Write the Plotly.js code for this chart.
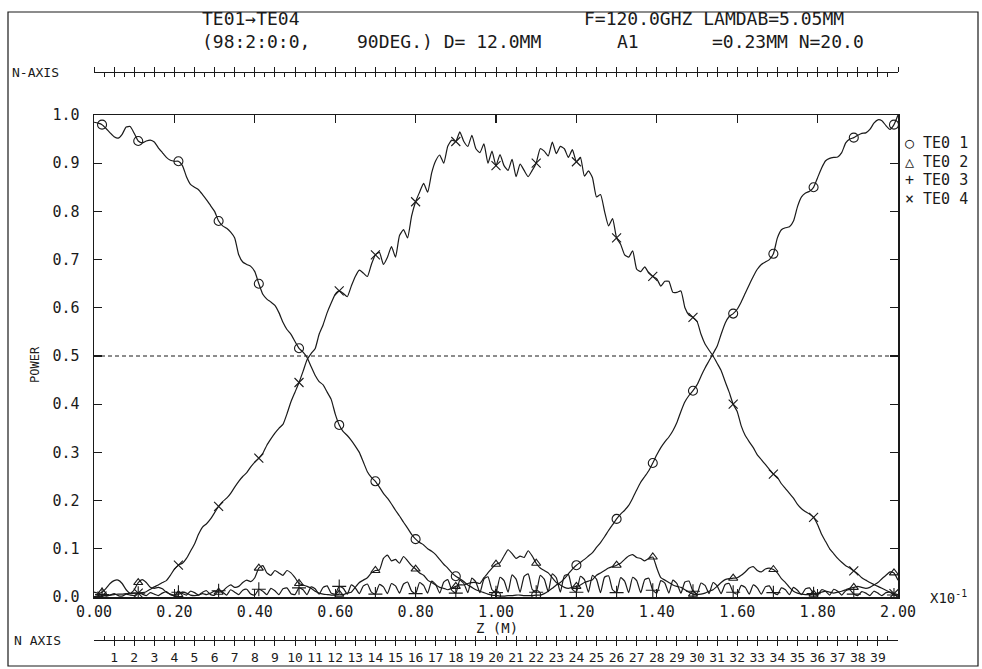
<!DOCTYPE html>
<html>
<head>
<meta charset="utf-8">
<script src="https://cdn.plot.ly/plotly-3.0.1.min.js"></script>
<style>
html,body{margin:0;padding:0;background:#fff;}
#chart{width:982px;height:669px;}
</style>
</head>
<body>
<div id="chart"></div>
<script>
// ---- data (power vs z, z sampled every 0.01 m from 0 to 2.00) ----
const zStart = 0;
const zStep = 0.01;
const seriesNames = ['TE0 1', 'TE0 2', 'TE0 3', 'TE0 4'];

const te01 = [
 0.985,0.983,0.980,0.972,0.963,0.955,0.952,0.960,0.975,0.976,
 0.962,0.946,0.942,0.946,0.948,0.944,0.932,0.922,0.912,0.906,
 0.904,0.904,0.895,0.872,0.856,0.850,0.845,0.835,0.824,0.812,
 0.800,0.780,0.770,0.765,0.757,0.745,0.710,0.695,0.690,0.686,
 0.675,0.650,0.628,0.618,0.612,0.605,0.590,0.570,0.555,0.545,
 0.530,0.516,0.508,0.497,0.478,0.460,0.447,0.440,0.425,0.410,
 0.380,0.357,0.343,0.335,0.325,0.313,0.300,0.280,0.260,0.248,
 0.240,0.228,0.215,0.205,0.193,0.180,0.168,0.155,0.143,0.130,
 0.120,0.113,0.108,0.100,0.095,0.088,0.078,0.068,0.060,0.050,
 0.043,0.038,0.032,0.025,0.020,0.015,0.012,0.009,0.006,0.004,
 0.003,0.002,0.002,0.003,0.003,0.004,0.004,0.003,0.003,0.003,
 0.004,0.004,0.007,0.012,0.018,0.025,0.030,0.038,0.048,0.058,
 0.066,0.072,0.078,0.085,0.092,0.103,0.113,0.125,0.138,0.150,
 0.162,0.172,0.180,0.190,0.205,0.222,0.238,0.250,0.262,0.278,
 0.295,0.310,0.322,0.332,0.345,0.362,0.385,0.405,0.418,0.428,
 0.440,0.458,0.475,0.490,0.505,0.520,0.545,0.568,0.582,0.588,
 0.597,0.612,0.630,0.648,0.665,0.680,0.690,0.695,0.700,0.712,
 0.745,0.762,0.766,0.768,0.780,0.810,0.830,0.838,0.842,0.850,
 0.870,0.890,0.905,0.910,0.912,0.913,0.922,0.942,0.950,0.953,
 0.958,0.962,0.963,0.970,0.983,0.990,0.988,0.978,0.970,0.980,
 1.000];

const te02 = [
 0.010,0.008,0.010,0.018,0.028,0.034,0.035,0.028,0.015,0.008,
 0.015,0.030,0.036,0.030,0.020,0.018,0.020,0.017,0.010,0.006,
 0.004,0.005,0.010,0.008,0.004,0.003,0.004,0.007,0.005,0.008,
 0.012,0.010,0.012,0.020,0.025,0.020,0.022,0.030,0.035,0.032,
 0.040,0.060,0.065,0.050,0.045,0.055,0.050,0.045,0.055,0.050,
 0.040,0.028,0.025,0.022,0.018,0.012,0.008,0.006,0.005,0.004,
 0.004,0.006,0.005,0.008,0.010,0.020,0.030,0.035,0.040,0.050,
 0.055,0.056,0.080,0.087,0.075,0.078,0.070,0.084,0.075,0.065,
 0.058,0.050,0.045,0.035,0.030,0.025,0.020,0.018,0.015,0.018,
 0.022,0.025,0.025,0.028,0.030,0.030,0.028,0.040,0.050,0.060,
 0.068,0.071,0.085,0.098,0.090,0.080,0.085,0.082,0.096,0.085,
 0.070,0.060,0.055,0.050,0.040,0.030,0.025,0.020,0.018,0.020,
 0.022,0.025,0.030,0.033,0.036,0.045,0.050,0.055,0.060,0.063,
 0.066,0.070,0.078,0.085,0.088,0.082,0.080,0.075,0.080,0.083,
 0.060,0.040,0.035,0.030,0.025,0.022,0.020,0.015,0.010,0.006,
 0.005,0.006,0.008,0.012,0.015,0.022,0.030,0.036,0.038,0.039,
 0.040,0.045,0.052,0.060,0.063,0.055,0.052,0.058,0.060,0.057,
 0.050,0.038,0.030,0.020,0.012,0.008,0.006,0.005,0.005,0.006,
 0.008,0.010,0.012,0.010,0.008,0.010,0.012,0.015,0.018,0.020,
 0.022,0.020,0.018,0.020,0.025,0.030,0.038,0.045,0.052,0.050,
 0.035];

const te03 = [
 0.000,0.003,0.005,0.002,0.004,0.007,0.003,0.002,0.006,0.004,
 0.003,0.008,0.006,0.003,0.009,0.006,0.003,0.008,0.011,0.005,
 0.003,0.010,0.007,0.004,0.012,0.009,0.004,0.010,0.013,0.005,
 0.004,0.013,0.010,0.004,0.015,0.010,0.005,0.014,0.016,0.006,
 0.004,0.016,0.012,0.005,0.018,0.013,0.005,0.017,0.019,0.007,
 0.005,0.019,0.015,0.005,0.021,0.017,0.006,0.020,0.023,0.008,
 0.006,0.022,0.018,0.006,0.025,0.019,0.007,0.023,0.027,0.010,
 0.006,0.026,0.021,0.007,0.028,0.023,0.008,0.027,0.031,0.012,
 0.007,0.030,0.024,0.008,0.033,0.026,0.008,0.031,0.036,0.014,
 0.008,0.035,0.028,0.009,0.039,0.031,0.009,0.037,0.042,0.015,
 0.009,0.041,0.034,0.010,0.046,0.037,0.010,0.043,0.048,0.016,
 0.010,0.045,0.037,0.011,0.048,0.040,0.010,0.044,0.047,0.016,
 0.010,0.043,0.036,0.010,0.045,0.037,0.009,0.041,0.044,0.015,
 0.009,0.040,0.033,0.009,0.041,0.034,0.009,0.036,0.039,0.014,
 0.008,0.034,0.029,0.008,0.035,0.028,0.008,0.031,0.033,0.012,
 0.007,0.029,0.024,0.007,0.030,0.023,0.007,0.026,0.028,0.010,
 0.006,0.024,0.020,0.006,0.025,0.019,0.006,0.021,0.023,0.009,
 0.005,0.019,0.015,0.005,0.020,0.014,0.005,0.017,0.019,0.007,
 0.004,0.015,0.012,0.004,0.016,0.012,0.004,0.013,0.015,0.006,
 0.003,0.011,0.008,0.003,0.012,0.008,0.003,0.009,0.010,0.004,
 0.002];

const te04 = [
 0.000,0.001,0.002,0.003,0.004,0.005,0.006,0.006,0.007,0.007,
 0.008,0.008,0.009,0.011,0.016,0.021,0.025,0.030,0.034,0.045,
 0.058,0.066,0.070,0.080,0.095,0.110,0.130,0.145,0.152,0.162,
 0.175,0.188,0.198,0.205,0.215,0.228,0.240,0.250,0.258,0.270,
 0.280,0.288,0.298,0.315,0.328,0.340,0.350,0.358,0.380,0.405,
 0.425,0.445,0.468,0.492,0.505,0.515,0.545,0.565,0.590,0.610,
 0.628,0.635,0.630,0.623,0.645,0.665,0.678,0.672,0.665,0.690,
 0.710,0.715,0.690,0.705,0.727,0.705,0.750,0.762,0.745,0.790,
 0.820,0.840,0.858,0.840,0.880,0.905,0.917,0.900,0.935,0.948,
 0.945,0.965,0.945,0.935,0.958,0.930,0.922,0.940,0.900,0.925,
 0.895,0.918,0.895,0.885,0.908,0.872,0.898,0.885,0.872,0.885,
 0.900,0.930,0.925,0.915,0.944,0.920,0.935,0.930,0.912,0.928,
 0.903,0.912,0.873,0.884,0.870,0.830,0.835,0.800,0.770,0.785,
 0.745,0.732,0.710,0.705,0.718,0.680,0.675,0.685,0.672,0.665,
 0.660,0.645,0.655,0.655,0.632,0.632,0.635,0.600,0.585,0.580,
 0.572,0.545,0.525,0.512,0.500,0.485,0.470,0.447,0.425,0.400,
 0.385,0.355,0.335,0.322,0.310,0.295,0.285,0.275,0.265,0.255,
 0.248,0.235,0.225,0.215,0.205,0.192,0.183,0.177,0.172,0.165,
 0.150,0.130,0.115,0.100,0.090,0.080,0.072,0.065,0.060,0.054,
 0.048,0.040,0.035,0.030,0.026,0.022,0.018,0.014,0.010,0.007,
 0.005];

const nAxisLabels = ['1','2','3','4','5','6','7','8','9','10','11','12','13','14','15','16','17','18','19','20',
 '21','22','23','24','25','26','27','28','29','30','31','32','33','34','35','36','37','38','39'];

// ---- layout helpers (pixel -> paper) ----
const W = 982, H = 669;
const M = {l: 94, r: 84, t: 72, b: 29};
const PW = W - M.l - M.r, PH = H - M.t - M.b;
const px = v => (v - M.l) / PW;
const py = v => (H - M.b - v) / PH;

const FONT = 'DejaVu Sans Mono, Liberation Mono, monospace';
const INK = '#1a1a1a';

const allSeries = [te01, te02, te03, te04];
const symbols = ['circle-open', 'triangle-up-open', 'cross-thin-open', 'x-thin-open'];
const legendGlyphs = ['○', '△', '+', '×'];
const symSizes = [9, 8, 10, 9];

// marker positions every ~0.0985 m as the plotter placed them
const markIdx = [];
for (let k = 0; k <= 20; k++) markIdx.push(Math.round((0.015 + k * 0.0985) / zStep));

const traces = [];
allSeries.forEach((s, i) => {
  traces.push({
    type: 'scatter', mode: 'lines', name: seriesNames[i], x0: zStart, dx: zStep, y: s,
    line: {color: INK, width: 1.2, shape: 'spline', smoothing: 0.5},
    showlegend: false, hoverinfo: 'skip'
  });
});
allSeries.forEach((s, i) => {
  traces.push({
    type: 'scatter', mode: 'markers', name: seriesNames[i],
    x: markIdx.map(j => zStart + j * zStep), y: markIdx.map(j => s[j]),
    marker: {symbol: symbols[i], size: symSizes[i], color: INK, line: {color: INK, width: 1.1}},
    showlegend: false
  });
});
// empty traces so the N rulers (extra x axes) are drawn
['x2', 'x3', 'x4', 'x5'].forEach(ax => traces.push({type: 'scatter', x: [], y: [], xaxis: ax, yaxis: 'y',
  showlegend: false, hoverinfo: 'skip'}));

const axFont = {family: FONT, size: 15, color: INK};
const yd0 = py(597), yd1 = py(115);

const rulerBase = {overlaying: 'x', anchor: 'free', range: [0, 40], tickcolor: INK, tickwidth: 1,
                   showgrid: false, zeroline: false, linecolor: INK, linewidth: 1};

const ann = [
  {text: 'TE01→TE04', x: 200, y: 18, xa: 'left', size: 18},
  {text: 'F=120.0GHZ LAMDAB=5.05MM', x: 582, y: 18, xa: 'left', size: 18},
  {text: '(98:2:0:0,', x: 200, y: 42, xa: 'left', size: 18},
  {text: '90DEG.) D= 12.0MM', x: 355, y: 42, xa: 'left', size: 18},
  {text: 'A1', x: 615, y: 42, xa: 'left', size: 18},
  {text: '=0.23MM N=20.0', x: 710, y: 42, xa: 'left', size: 18},
  {text: 'N-AXIS', x: 10, y: 72, xa: 'left', size: 13},
  {text: 'N AXIS', x: 12, y: 640, xa: 'left', size: 13},
  {text: 'Z (M)', x: 497, y: 628, xa: 'center', size: 14},
  {text: 'POWER', x: 35, y: 365, xa: 'center', size: 12, angle: -90},
  {text: 'X10<sup>-1</sup>', x: 928, y: 597, xa: 'left', size: 14}
];
const legendRowsY = [143, 162, 180, 199];
seriesNames.forEach((n, i) => ann.push({text: legendGlyphs[i] + ' ' + n, x: 903, y: legendRowsY[i], xa: 'left', size: 15}));

const layout = {
  width: W, height: H,
  margin: {l: M.l, r: M.r, t: M.t, b: M.b, pad: 0, autoexpand: false},
  paper_bgcolor: '#fff', plot_bgcolor: '#fff',
  font: {family: FONT, color: INK},
  showlegend: false,
  xaxis: {domain: [0, 1], range: [0, 2], anchor: 'y', tickmode: 'linear', tick0: 0, dtick: 0.2,
          tickformat: '.2f', ticks: 'inside', ticklen: 8, tickwidth: 1.2, tickcolor: INK,
          showline: true, linecolor: INK, linewidth: 1.5, mirror: 'ticks',
          showgrid: false, zeroline: false, tickfont: axFont},
  yaxis: {domain: [yd0, yd1], range: [0, 1], anchor: 'x', tickmode: 'linear', tick0: 0, dtick: 0.1,
          tickformat: '.1f', ticks: 'inside', ticklen: 8, tickwidth: 1.2, tickcolor: INK,
          showline: true, linecolor: INK, linewidth: 1.5, mirror: 'ticks',
          showgrid: false, zeroline: false, tickfont: axFont, ticklabelstandoff: 10},
  xaxis2: Object.assign({}, rulerBase, {position: 0, side: 'bottom', tickmode: 'array',
           tickvals: nAxisLabels.map(Number), ticktext: nAxisLabels, ticks: 'outside', ticklen: 5,
           showline: true, tickfont: {family: FONT, size: 13, color: INK}}),
  xaxis3: Object.assign({}, rulerBase, {position: 0, side: 'bottom', tickmode: 'linear', tick0: 0, dtick: 0.5,
           ticks: 'inside', ticklen: 4, showticklabels: false, showline: false}),
  xaxis4: Object.assign({}, rulerBase, {position: 1, side: 'top', tickmode: 'linear', tick0: 0, dtick: 1,
           ticks: 'outside', ticklen: 5, showticklabels: false, showline: true}),
  xaxis5: Object.assign({}, rulerBase, {position: 1, side: 'top', tickmode: 'linear', tick0: 0, dtick: 0.5,
           ticks: 'inside', ticklen: 4, showticklabels: false, showline: false}),
  shapes: [
    {type: 'line', xref: 'x', yref: 'y', x0: 0, x1: 2, y0: 0.5, y1: 0.5,
     line: {color: INK, width: 1, dash: '4px,3px'}},
    {type: 'rect', xref: 'paper', yref: 'paper', x0: px(8), x1: px(978), y0: py(666), y1: py(12),
     line: {color: INK, width: 1.2}}
  ],
  annotations: ann.map(a => ({text: a.text, x: px(a.x), y: py(a.y), xref: 'paper', yref: 'paper',
               xanchor: a.xa, yanchor: 'middle', showarrow: false, textangle: a.angle || 0,
               font: {family: FONT, size: a.size, color: INK}}))
};

Plotly.newPlot('chart', traces, layout, {staticPlot: true, displayModeBar: false});
</script>
</body>
</html>
